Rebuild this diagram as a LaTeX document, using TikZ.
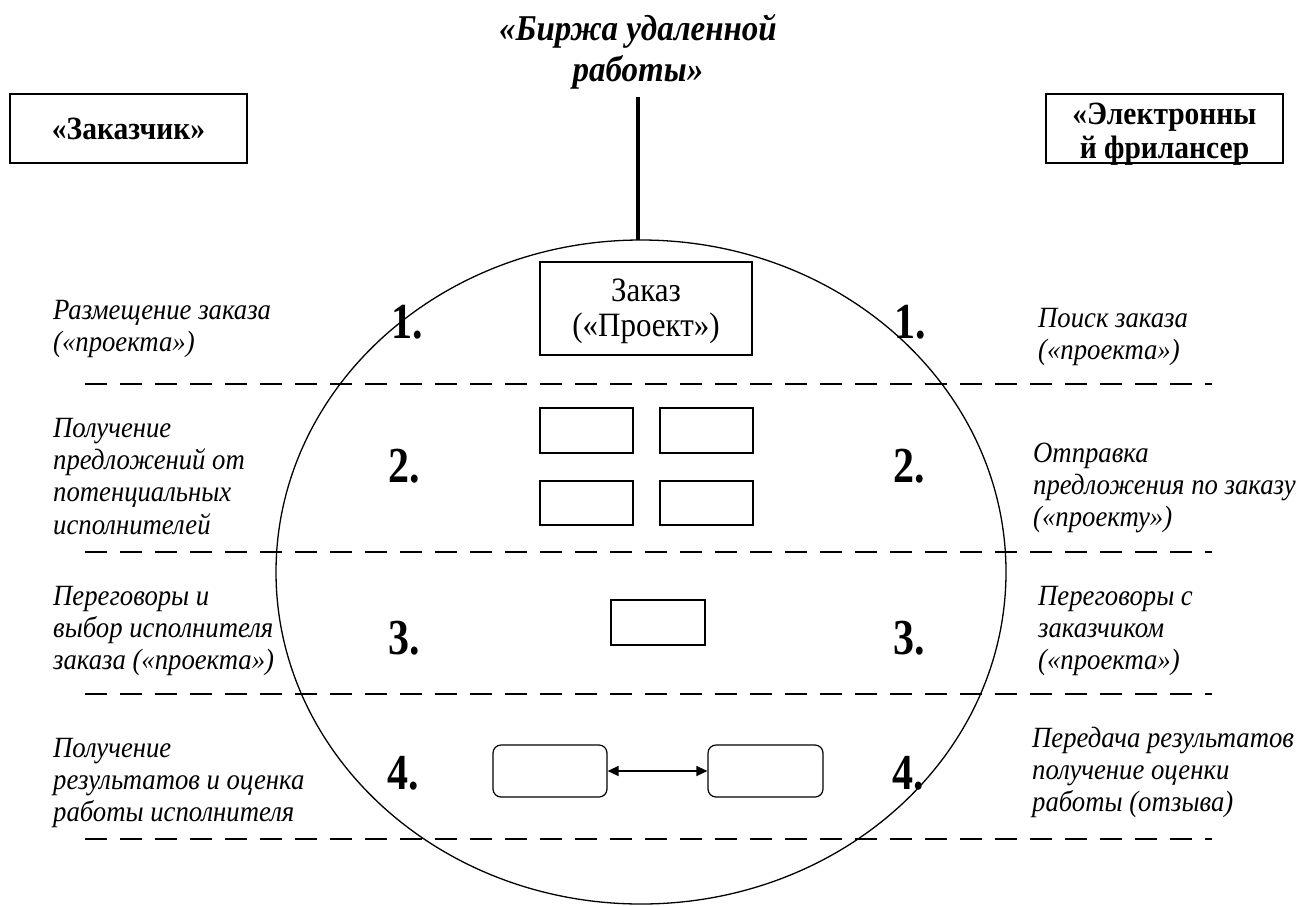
\documentclass[tikz,border=0pt]{standalone}
\usepackage{fontspec}
\setmainfont{Liberation Serif}
\usetikzlibrary{arrows.meta}
\newcommand{\mlines}[1]{\scalebox{1}[1.1]{\begin{tabular}[t]{@{}l@{}}#1\end{tabular}}}
\newcommand{\mclines}[1]{\scalebox{1}[1.1]{\begin{tabular}[t]{@{}c@{}}#1\end{tabular}}}
\newcommand{\tallnum}[1]{\scalebox{1}[1.2]{#1}}
\begin{document}
\begin{tikzpicture}[x=1pt,y=-1pt,
  lbl/.style={font=\fontsize{26.7}{29.4}\selectfont\itshape, anchor=base west, inner sep=0pt},
  num/.style={font=\fontsize{42}{44}\selectfont\bfseries, anchor=base west, inner sep=0pt},
  sep/.style={line width=2pt, dash pattern=on 22pt off 13pt},
  smallbox/.style={draw, line width=1.2pt},
  framebox/.style={draw, line width=1.2pt, minimum width=237pt, minimum height=69pt, inner sep=0pt},
  actortxt/.style={font=\fontsize{29.5}{31}\selectfont\bfseries, anchor=base, inner sep=0pt}]
\useasboundingbox (0,0) rectangle (1303,905);
% title
\node[font=\fontsize{33}{38}\selectfont\bfseries\itshape, anchor=base, inner sep=0pt] (title) at (638,40) {\mclines{«Биржа удаленной\\работы»}};
\coordinate (stemtop) at (638,97);
\coordinate (stembot) at (638,240);
\draw[line width=4pt] (stemtop) -- (stembot);
% actors
\node[framebox] (clientbox) at (128.5,128.5) {};
\node[actortxt] (client) at (128.5,139) {\scalebox{1}[1.1]{«Заказчик»}};
\node[framebox] (freebox) at (1164.5,128.5) {};
\node[actortxt] (freetxt) at (1164.5,124) {\mclines{«Электронны\\й фрилансер}};
% ellipse
\draw[line width=1.3pt] (641,572) ellipse [x radius=365, y radius=332];
% separators
\coordinate (s1a) at (85,384); \coordinate (s1b) at (1212,384);
\coordinate (s2a) at (85,552); \coordinate (s2b) at (1212,552);
\coordinate (s3a) at (85,694); \coordinate (s3b) at (1212,694);
\coordinate (s4a) at (85,839); \coordinate (s4b) at (1212,839);
\draw[sep] (s1a) -- (s1b);
\draw[sep] (s2a) -- (s2b);
\draw[sep] (s3a) -- (s3b);
\draw[sep] (s4a) -- (s4b);
% order box
\node[draw, line width=1.3pt, minimum width=212pt, minimum height=93pt, inner sep=0pt] (order) at (646,308.5) {};
\node[font=\fontsize{31}{32.7}\selectfont, anchor=base, inner sep=0pt] (ordertxt) at (646,301) {\mclines{Заказ\\(«Проект»)}};
% row 2 boxes
\draw[smallbox] (540,408) rectangle (633,453);
\draw[smallbox] (660,408) rectangle (753,453);
\draw[smallbox] (540,481) rectangle (633,525);
\draw[smallbox] (660,481) rectangle (753,525);
% row 3 box
\draw[line width=2.2pt] (611,600) rectangle (705,645);
% row 4
\node[draw, line width=1.2pt, rounded corners=8pt, minimum width=114pt, minimum height=52pt] (res1) at (550,771) {};
\node[draw, line width=1.2pt, rounded corners=8pt, minimum width=115pt, minimum height=52pt] (res2) at (765.5,771) {};
\draw[line width=1.5pt, {Triangle[length=11pt,width=10pt]}-{Triangle[length=11pt,width=10pt]}] (res1.east) -- (res2.west);
% numbers
\node[num] (n1l) at (391,338) {\tallnum{1.}};
\node[num] (n1r) at (894,338) {\tallnum{1.}};
\node[num] (n2l) at (388,482) {\tallnum{2.}};
\node[num] (n2r) at (893,482) {\tallnum{2.}};
\node[num] (n3l) at (388,654) {\tallnum{3.}};
\node[num] (n3r) at (893,654) {\tallnum{3.}};
\node[num] (n4l) at (387,789) {\tallnum{4.}};
\node[num] (n4r) at (892,789) {\tallnum{4.}};
% left labels
\node[lbl] (l1) at (53,319) {\mlines{Размещение заказа\\(«проекта»)}};
\node[lbl] (l2) at (53,437) {\mlines{Получение\\предложений от\\потенциальных\\исполнителей}};
\node[lbl] (l3) at (53,605) {\mlines{Переговоры и\\выбор исполнителя\\заказа («проекта»)}};
\node[lbl] (l4) at (53,757) {\mlines{Получение\\результатов и оценка\\работы исполнителя}};
% right labels
\node[lbl] (r1) at (1038,327) {\mlines{Поиск заказа\\(«проекта»)}};
\node[lbl] (r2) at (1033,462) {\mlines{Отправка\\предложения по заказу\\(«проекту»)}};
\node[lbl] (r3) at (1038,605) {\mlines{Переговоры с\\заказчиком\\(«проекта»)}};
\node[lbl] (r4) at (1032,747) {\mlines{Передача результатов\\получение оценки\\работы (отзыва)}};
\end{tikzpicture}
\end{document}
